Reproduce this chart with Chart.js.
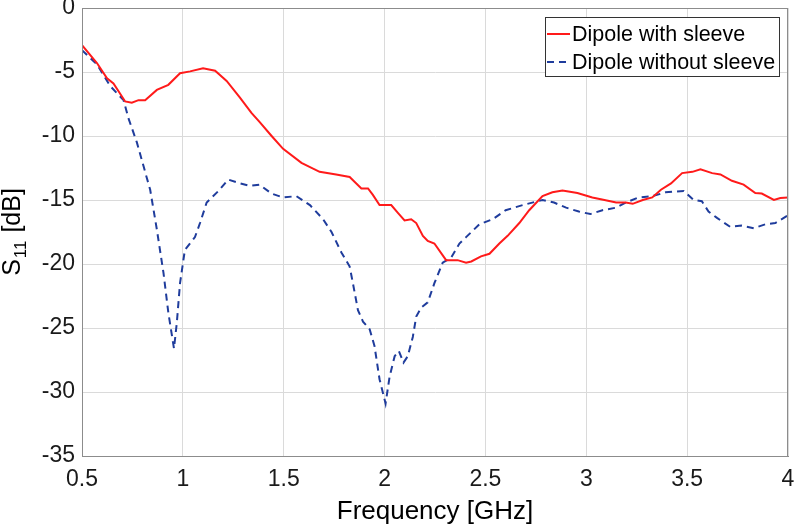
<!DOCTYPE html>
<html>
<head>
<meta charset="utf-8">
<title>S11 dipole</title>
<script src="https://cdn.jsdelivr.net/npm/chart.js@4.4.1/dist/chart.umd.min.js"></script>
<style>
  html, body { margin: 0; padding: 0; background: #ffffff; }
  #box { width: 800px; height: 527px; }
</style>
</head>
<body>
<div id="box"><canvas id="s11Chart"></canvas></div>
<script>
'use strict';

//series names
var seriesNames = ['Dipole with sleeve', 'Dipole without sleeve'];

//frequency [GHz] and S11 [dB], dipole with sleeve
var freqWith = [0.50, 0.574, 0.624, 0.656, 0.714, 0.747, 0.78, 0.813, 0.871, 0.928,
  0.986, 1.036, 1.10, 1.16, 1.217, 1.283, 1.34, 1.38, 1.44, 1.497,
  1.588, 1.678, 1.76, 1.827, 1.885, 1.918, 1.942, 1.975, 2.033, 2.066,
  2.099, 2.132, 2.157, 2.19, 2.214, 2.247, 2.305, 2.362, 2.404, 2.43,
  2.478, 2.52, 2.569, 2.61, 2.668, 2.717, 2.783, 2.832, 2.882, 2.956,
  3.03, 3.09, 3.148, 3.195, 3.23, 3.28, 3.327, 3.37, 3.42, 3.475,
  3.526, 3.566, 3.624, 3.665, 3.722, 3.78, 3.838, 3.87, 3.93, 3.962, 4.0];
var s11With = [-2.9, -4.3, -5.5, -5.9, -7.3, -7.4, -7.2, -7.2, -6.4, -6.0,
  -5.1, -4.95, -4.7, -4.9, -5.7, -7.0, -8.2, -8.9, -10.0, -11.0,
  -12.1, -12.8, -13.0, -13.2, -14.1, -14.1, -14.6, -15.4, -15.4, -16.0,
  -16.6, -16.5, -16.8, -17.8, -18.2, -18.4, -19.7, -19.7, -19.9, -19.8,
  -19.4, -19.2, -18.4, -17.8, -16.8, -15.8, -14.7, -14.4, -14.25, -14.45,
  -14.8, -15.0, -15.2, -15.2, -15.3, -15.0, -14.8, -14.2, -13.7, -12.9,
  -12.8, -12.6, -12.9, -13.0, -13.5, -13.8, -14.45, -14.5, -15.0, -14.85, -14.8];

//dipole without sleeve
var freqWithout = [0.50, 0.574, 0.64, 0.706, 0.73, 0.772, 0.82, 0.838, 0.871, 0.904,
  0.928, 0.956, 0.97, 0.986, 1.01, 1.06, 1.085, 1.118, 1.176, 1.225,
  1.283, 1.332, 1.38, 1.44, 1.497, 1.563, 1.63, 1.695, 1.737, 1.786,
  1.827, 1.843, 1.868, 1.893, 1.926, 1.95, 1.975, 2.005, 2.025, 2.05,
  2.071, 2.094, 2.115, 2.14, 2.157, 2.182, 2.214, 2.247, 2.288, 2.33,
  2.371, 2.404, 2.47, 2.536, 2.60, 2.684, 2.783, 2.84, 2.90, 2.963,
  3.02, 3.08, 3.147, 3.195, 3.26, 3.327, 3.393, 3.483, 3.532, 3.573,
  3.606, 3.648, 3.714, 3.77, 3.83, 3.888, 3.937, 4.0];
var s11Without = [-3.3, -4.4, -6.1, -7.2, -8.6, -10.5, -13.2, -14.2, -17.3, -20.7,
  -23.8, -26.6, -24.6, -21.5, -18.9, -17.9, -16.8, -15.2, -14.3, -13.4,
  -13.7, -13.9, -13.8, -14.5, -14.8, -14.7, -15.4, -16.5, -17.5, -19.1,
  -20.2, -21.5, -23.6, -24.5, -25.1, -26.4, -29.0, -30.9, -28.8, -27.2,
  -26.8, -27.7, -27.2, -25.7, -24.1, -23.4, -23.0, -21.5, -19.9, -19.5,
  -18.4, -17.9, -16.9, -16.5, -15.8, -15.4, -15.0, -15.2, -15.6, -15.9,
  -16.1, -15.8, -15.6, -15.2, -14.8, -14.7, -14.4, -14.3, -15.0, -15.1,
  -15.9, -16.4, -17.1, -17.0, -17.2, -16.9, -16.8, -16.2];

//axis ticks
var xTicks = [0.5, 1, 1.5, 2, 2.5, 3, 3.5, 4];
var yTicks = [0, -5, -10, -15, -20, -25, -30, -35];

var FONT = '"Liberation Sans", Arial, sans-serif';
var RED = '#ff1a1a';
var BLUE = '#1f3c9c';

//turn two arrays into {x, y} points
function toPoints(xs, ys) {
  var pts = [];
  for (var i = 0; i < xs.length; i++) {
    pts.push({ x: xs[i], y: ys[i] });
  }
  return pts;
}

//draws the y title with the subscript, the legend box and the axes box
var extrasPlugin = {
  id: 'extras',
  afterDraw: function(chart) {
    var ctx = chart.ctx;
    var area = chart.chartArea;

    //box round the plot
    ctx.save();
    ctx.strokeStyle = '#8c8c8c';
    ctx.lineWidth = 1;
    ctx.strokeRect(area.left + 0.5, area.top + 0.5, area.right - area.left - 1, area.bottom - area.top);
    ctx.restore();

    //y title: S11 [dB]
    ctx.save();
    ctx.fillStyle = '#000000';
    ctx.textBaseline = 'alphabetic';
    var big = '25px ' + FONT;
    var small = '17px ' + FONT;
    ctx.font = big;
    var wS = ctx.measureText('S').width;
    var wRest = ctx.measureText(' [dB]').width;
    ctx.font = small;
    var wSub = ctx.measureText('11').width + 2;
    var total = wS + wSub + wRest;
    var cy = (area.top + area.bottom) / 2;
    ctx.translate(20, cy);
    ctx.rotate(-Math.PI / 2);
    var x = -total / 2;
    ctx.font = big;
    ctx.fillText('S', x, 0);
    x += wS + 1;
    ctx.font = small;
    ctx.fillText('11', x, 6);
    x += wSub - 1;
    ctx.font = big;
    ctx.fillText(' [dB]', x, 0);
    ctx.restore();

    //legend
    var colors = [RED, BLUE];
    var dashes = [[], [7, 5]];
    var boxLeft = 545, boxTop = 17, boxW = 234, boxH = 59;
    ctx.save();
    ctx.fillStyle = '#ffffff';
    ctx.fillRect(boxLeft, boxTop, boxW, boxH);
    ctx.strokeStyle = '#333333';
    ctx.lineWidth = 1;
    ctx.strokeRect(boxLeft + 0.5, boxTop + 0.5, boxW, boxH);
    ctx.font = '21.5px ' + FONT;
    ctx.textBaseline = 'middle';
    for (var i = 0; i < seriesNames.length; i++) {
      var ly = boxTop + 17 + i * 28;
      ctx.strokeStyle = colors[i];
      ctx.lineWidth = 2;
      ctx.setLineDash(dashes[i]);
      ctx.beginPath();
      ctx.moveTo(boxLeft + 2, ly);
      ctx.lineTo(boxLeft + 25, ly);
      ctx.stroke();
      ctx.setLineDash([]);
      ctx.fillStyle = '#000000';
      ctx.fillText(seriesNames[i], boxLeft + 27, ly + 1);
    }
    ctx.restore();
  }
};

var ctx = document.getElementById('s11Chart').getContext('2d');

new Chart(ctx, {
  type: 'line',
  data: {
    datasets: [
      {
        label: seriesNames[0],
        data: toPoints(freqWith, s11With),
        borderColor: RED,
        borderWidth: 2,
        pointRadius: 0,
        tension: 0,
        fill: false
      },
      {
        label: seriesNames[1],
        data: toPoints(freqWithout, s11Without),
        borderColor: BLUE,
        borderWidth: 2,
        borderDash: [7, 5],
        pointRadius: 0,
        tension: 0,
        fill: false
      }
    ]
  },
  options: {
    responsive: true,
    maintainAspectRatio: false,
    animation: false,
    layout: { padding: { top: 8, right: 12, left: 0, bottom: 0 } },
    plugins: {
      legend: { display: false },
      tooltip: { enabled: false }
    },
    scales: {
      x: {
        type: 'linear',
        min: 0.5,
        max: 4,
        afterBuildTicks: function(axis) {
          axis.ticks = xTicks.map(function(v) { return { value: v }; });
        },
        afterFit: function(axis) {
          axis.height = 71;
          axis.paddingLeft = 0;
          axis.paddingRight = 0;
        },
        ticks: {
          color: '#1a1a1a',
          font: { size: 23, family: FONT },
          padding: 10,
          maxRotation: 0,
          autoSkip: false,
          callback: function(value) { return String(value); }
        },
        grid: { color: '#dadada', lineWidth: 1, drawTicks: false },
        border: { color: '#8c8c8c' },
        title: {
          display: true,
          text: 'Frequency [GHz]',
          color: '#000000',
          font: { size: 26, family: FONT },
          padding: { top: 0, bottom: 0 }
        }
      },
      y: {
        type: 'linear',
        min: -35,
        max: 0,
        afterBuildTicks: function(axis) {
          axis.ticks = yTicks.map(function(v) { return { value: v }; });
        },
        afterFit: function(axis) {
          axis.width = 82;
          axis.paddingTop = 0;
          axis.paddingBottom = 0;
        },
        ticks: {
          color: '#1a1a1a',
          font: { size: 23, family: FONT },
          padding: 7
        },
        grid: { color: '#dadada', lineWidth: 1, drawTicks: false },
        border: { color: '#8c8c8c' },
        title: { display: false }
      }
    }
  },
  plugins: [extrasPlugin]
});
</script>
</body>
</html>
